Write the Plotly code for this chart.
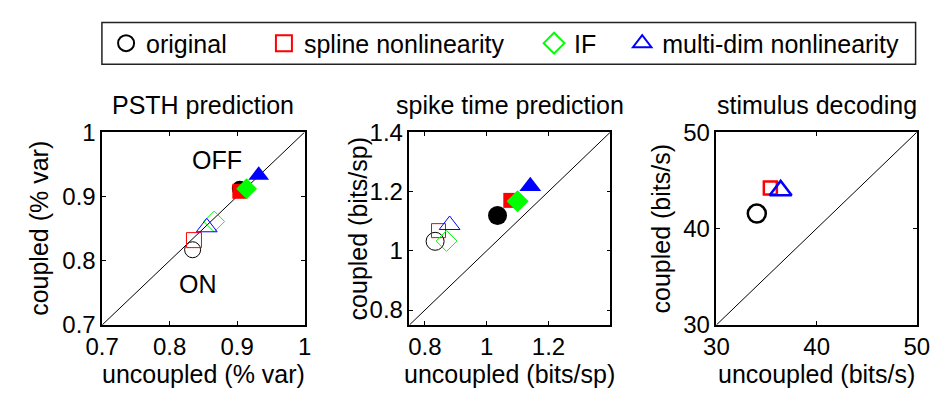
import plotly.graph_objects as go

# ---------------- data ----------------
methods = ["original", "spline nonlinearity", "IF", "multi-dim nonlinearity"]

# PSTH prediction (% var): ON cells (open), OFF cells (filled)
psth_on_x = [0.834, 0.836, 0.866, 0.855]
psth_on_y = [0.817, 0.832, 0.861, 0.852]
psth_off_x = [0.904, 0.904, 0.914, 0.932]
psth_off_y = [0.912, 0.908, 0.912, 0.933]

# spike time prediction (bits/sp)
spike_on_x = [0.833, 0.844, 0.870, 0.880]
spike_on_y = [1.032, 1.068, 1.033, 1.087]
spike_off_x = [1.035, 1.078, 1.100, 1.141]
spike_off_y = [1.119, 1.170, 1.167, 1.218]

# stimulus decoding (bits/s); IF not shown
decode_x = [34.03, 35.38, None, 36.41]
decode_y = [41.55, 44.20, None, 43.96]

panel_titles = ["PSTH prediction", "spike time prediction", "stimulus decoding"]
x_titles = ["uncoupled (% var)", "uncoupled (bits/sp)", "uncoupled (bits/s)"]
y_titles = ["coupled (% var)", "coupled (bits/sp)", "coupled (bits/s)"]
ranges = [[0.7, 1.0], [0.75, 1.4], [30, 50]]
x_tickvals = [[0.7, 0.8, 0.9, 1.0], [0.8, 1.0, 1.2], [30, 40, 50]]
x_ticktext = [["0.7", "0.8", "0.9", "1"], ["0.8", "1", "1.2"], ["30", "40", "50"]]
y_tickvals = [[0.7, 0.8, 0.9, 1.0], [0.8, 1.0, 1.2, 1.4], [30, 40, 50]]
y_ticktext = [["0.7", "0.8", "0.9", "1"], ["0.8", "1", "1.2", "1.4"], ["30", "40", "50"]]

# ---------------- style ----------------
W, H = 947, 402
colors = ["#000000", "#ff0000", "#00ff00", "#0000ff"]
symbols = ["circle", "square", "diamond", "triangle-up"]
FONT = "Liberation Sans, Arial, Helvetica, sans-serif"
FS_TICK = 24
FS = 25

x_dom_px = [(88, 297), (405.3, 612.7), (722.3, 929.3)]
y_dom_px = (126.7, 333.3)

sizes_p1 = [16, 15, 16, 18]
sizes_p2 = [18, 14, 16, 18]
sizes_p2f = [19, 15, 17, 19]
sizes_p3 = [18, 13, 16, 19]

fig = go.Figure()

def ax_name(i, kind):
    return kind if i == 0 else f"{kind}{i + 1}"

def ref(i, kind):
    return kind[0] if i == 0 else f"{kind[0]}{i + 1}"

# diagonals
for i, r in enumerate(ranges):
    fig.add_trace(go.Scatter(x=r, y=r, mode="lines", line=dict(color="#000", width=1),
                             showlegend=False, hoverinfo="skip",
                             xaxis=ref(i, "x"), yaxis=ref(i, "y")))

# panel 1 and 2 markers
panels = [
    (0, psth_on_x, psth_on_y, psth_off_x, psth_off_y, sizes_p1, sizes_p1),
    (1, spike_on_x, spike_on_y, spike_off_x, spike_off_y, sizes_p2, sizes_p2f),
]
for (i, onx, ony, offx, offy, s_on, s_off) in panels:
    for k in range(4):
        fig.add_trace(go.Scatter(
            x=[onx[k]], y=[ony[k]], mode="markers", showlegend=False,
            marker=dict(symbol=symbols[k] + "-open", size=s_on[k], color=colors[k],
                        line=dict(width=1, color=colors[k])),
            xaxis=ref(i, "x"), yaxis=ref(i, "y"), cliponaxis=False))
    for k in range(4):
        fig.add_trace(go.Scatter(
            x=[offx[k]], y=[offy[k]], mode="markers", showlegend=False,
            marker=dict(symbol=symbols[k], size=s_off[k], color=colors[k],
                        line=dict(width=0)),
            xaxis=ref(i, "x"), yaxis=ref(i, "y"), cliponaxis=False))

# panel 3 markers
for k in range(4):
    if decode_x[k] is None:
        continue
    fig.add_trace(go.Scatter(
        x=[decode_x[k]], y=[decode_y[k]], mode="markers", showlegend=False,
        marker=dict(symbol=symbols[k] + "-open", size=sizes_p3[k], color=colors[k],
                    line=dict(width=2.5, color=colors[k])),
        xaxis="x3", yaxis="y3", cliponaxis=False))

# legend entries (one legend per entry, placed like the reference)
leg_centers_px = [112, 275, 554, 645]
leg_names = ["legend", "legend2", "legend3", "legend4"]
for k in range(4):
    fig.add_trace(go.Scatter(
        x=[None], y=[None], mode="markers", name=methods[k], legend=leg_names[k],
        marker=dict(symbol=symbols[k] + "-open", size=16, color=colors[k],
                    line=dict(width=2, color=colors[k])),
        xaxis="x", yaxis="y"))

layout = dict(
    width=W, height=H, margin=dict(l=0, r=0, t=0, b=0),
    paper_bgcolor="white", plot_bgcolor="white",
    font=dict(family=FONT, size=FS, color="#000"),
    showlegend=True,
)

for i in range(3):
    x0, x1 = x_dom_px[i]
    axcommon = dict(showline=True, linecolor="#000", linewidth=1.5, mirror="ticks",
                    ticks="inside", ticklen=4, tickwidth=1, tickcolor="#000",
                    showgrid=False, zeroline=False, fixedrange=True,
                    tickfont=dict(family=FONT, size=FS_TICK, color="#000"))
    layout[ax_name(i, "xaxis")] = dict(
        domain=[x0 / W, x1 / W], range=ranges[i], anchor=ref(i, "y"),
        tickvals=x_tickvals[i], ticktext=x_ticktext[i], **axcommon)
    layout[ax_name(i, "yaxis")] = dict(
        domain=[1 - y_dom_px[1] / H, 1 - y_dom_px[0] / H], range=ranges[i], anchor=ref(i, "x"),
        tickvals=y_tickvals[i], ticktext=y_ticktext[i], **axcommon)

for k in range(4):
    layout[leg_names[k]] = dict(
        x=(leg_centers_px[k] - 20) / W, xanchor="left",
        y=1 - 31.5 / H, yanchor="middle", orientation="h",
        bgcolor="rgba(0,0,0,0)", borderwidth=0,
        font=dict(family=FONT, size=FS, color="#000"),
        itemclick=False, itemdoubleclick=False)

fig.update_layout(**layout)

# legend box
fig.add_shape(type="rect", xref="paper", yref="paper",
              x0=87.7 / W, x1=928 / W, y0=1 - 54 / H, y1=1 - 9 / H,
              line=dict(color="#222", width=1.5), fillcolor="rgba(0,0,0,0)")

ann = []
for i in range(3):
    x0, x1 = x_dom_px[i]
    cx = (x0 + x1) / 2 / W
    ann.append(dict(text=panel_titles[i], x=cx, y=1 - 98 / H, xref="paper", yref="paper",
                    showarrow=False, xanchor="center", yanchor="middle",
                    font=dict(family=FONT, size=FS, color="#000")))
    ann.append(dict(text=x_titles[i], x=cx, y=1 - 386 / H, xref="paper", yref="paper",
                    showarrow=False, xanchor="center", yanchor="middle",
                    font=dict(family=FONT, size=FS, color="#000")))
y_title_px = [22, 352, 665]
for i in range(3):
    ann.append(dict(text=y_titles[i], x=y_title_px[i] / W, y=1 - 230 / H, xref="paper", yref="paper",
                    showarrow=False, xanchor="center", yanchor="middle", textangle=-90,
                    font=dict(family=FONT, size=FS, color="#000")))
ann.append(dict(text="OFF", x=0.870, y=0.957, xref="x", yref="y", showarrow=False,
                font=dict(family=FONT, size=FS, color="#000")))
ann.append(dict(text="ON", x=0.842, y=0.764, xref="x", yref="y", showarrow=False,
                font=dict(family=FONT, size=FS, color="#000")))
fig.update_layout(annotations=ann)

fig.write_html("out.html", config={"displayModeBar": False},
               post_script="document.body.style.margin='0';document.body.style.overflow='hidden';")
